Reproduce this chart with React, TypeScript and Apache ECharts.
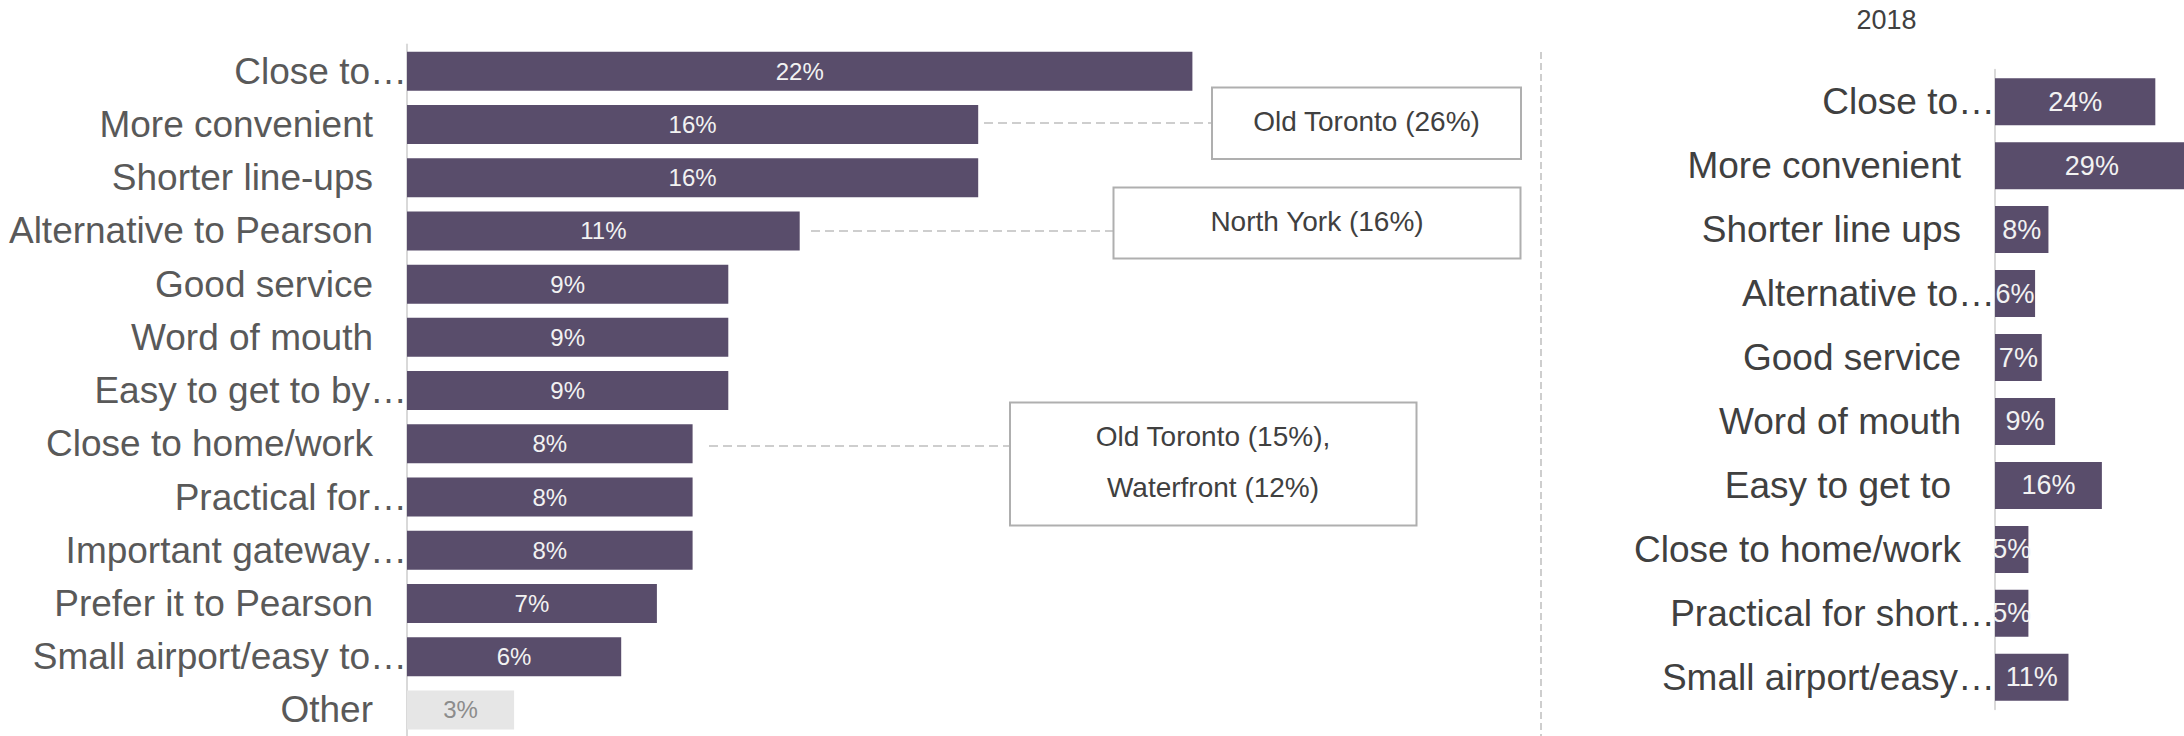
import React, { useEffect, useRef } from 'react';
import * as echarts from 'echarts';

const leftCategories = [
  'Close to…',
  'More convenient',
  'Shorter line-ups',
  'Alternative to Pearson',
  'Good service',
  'Word of mouth',
  'Easy to get to by…',
  'Close to home/work',
  'Practical for…',
  'Important gateway…',
  'Prefer it to Pearson',
  'Small airport/easy to…',
  'Other',
];
const leftValues = [22, 16, 16, 11, 9, 9, 9, 8, 8, 8, 7, 6, 3];

const rightTitle = '2018';
const rightCategories = [
  'Close to…',
  'More convenient',
  'Shorter line ups',
  'Alternative to…',
  'Good service',
  'Word of mouth',
  'Easy to get to',
  'Close to home/work',
  'Practical for short…',
  'Small airport/easy…',
];
const rightValues = [24, 29, 8, 6, 7, 9, 16, 5, 5, 11];

const calloutOldToronto = 'Old Toronto (26%)';
const calloutNorthYork = 'North York (16%)';
const calloutCloseHome = 'Old Toronto (15%),\nWaterfront (12%)';

const FONT = '"Liberation Sans", Arial, sans-serif';
const BAR = '#594D6B';
const OTHER_BAR = '#E6E6E6';

export default function App() {
  const ref = useRef<HTMLDivElement>(null);

  useEffect(() => {
    if (!ref.current) return;
    const chart = echarts.init(ref.current, undefined, { renderer: 'svg' });

    const labelFormatter = (v: string) => {
      if (v.endsWith('…')) return `{t|${v}}`;
      if (v === 'Easy to get to') return `{e|${v}}`;
      return `{n|${v}}`;
    };

    const richFor = (color: string) => ({
      t: { fontSize: 37, color, fontFamily: FONT },
      n: { fontSize: 37, color, fontFamily: FONT, padding: [0, 34, 0, 0] },
      e: { fontSize: 37, color, fontFamily: FONT, padding: [0, 44, 0, 0] },
    });

    const leftData = leftValues.map((v, i) =>
      leftCategories[i] === 'Other'
        ? { value: v, itemStyle: { color: OTHER_BAR }, label: { color: '#8C8C8C' } }
        : { value: v }
    );

    const dashed = { stroke: '#BFBFBF', lineWidth: 1.5, lineDash: [9, 5] };
    const boxStyle = { fill: '#FFFFFF', stroke: '#AFAFAF', lineWidth: 2 };
    const calloutText = { fill: '#404040', fontSize: 28, fontFamily: FONT, align: 'center', verticalAlign: 'middle' };

    chart.setOption({
      animation: false,
      grid: [
        { left: 407, top: 44.6, width: 1071, height: 692, outerBoundsMode: 'none' },
        { left: 1995, top: 69.7, width: 200.4, height: 639.6, outerBoundsMode: 'none' },
      ],
      xAxis: [
        { gridIndex: 0, type: 'value', min: 0, max: 30, show: false },
        { gridIndex: 1, type: 'value', min: 0, max: 30, show: false },
      ],
      yAxis: [
        {
          gridIndex: 0,
          type: 'category',
          inverse: true,
          data: leftCategories,
          axisLine: { show: true, lineStyle: { color: '#D9D9D9', width: 2 } },
          axisTick: { show: false },
          splitLine: { show: false },
          axisLabel: {
            interval: 0,
            margin: 0,
            fontSize: 37,
            color: '#595959',
            fontFamily: FONT,
            formatter: labelFormatter,
            rich: richFor('#595959'),
          },
        },
        {
          gridIndex: 1,
          type: 'category',
          inverse: true,
          data: rightCategories,
          axisLine: { show: true, lineStyle: { color: '#D9D9D9', width: 2 } },
          axisTick: { show: false },
          splitLine: { show: false },
          axisLabel: {
            interval: 0,
            margin: 0,
            fontSize: 37,
            color: '#404040',
            fontFamily: FONT,
            formatter: labelFormatter,
            rich: richFor('#404040'),
          },
        },
      ],
      series: [
        {
          type: 'bar',
          xAxisIndex: 0,
          yAxisIndex: 0,
          data: leftData,
          barWidth: 39,
          itemStyle: { color: BAR },
          label: {
            show: true,
            position: 'inside',
            formatter: (p: any) => `${p.value}%`,
            color: '#F2F2F2',
            fontSize: 24,
            fontFamily: FONT,
          },
        },
        {
          type: 'bar',
          xAxisIndex: 1,
          yAxisIndex: 1,
          data: rightValues,
          barWidth: 47,
          itemStyle: { color: BAR },
          label: {
            show: true,
            position: 'inside',
            formatter: (p: any) => `${p.value}%`,
            color: '#F2F2F2',
            fontSize: 27,
            fontFamily: FONT,
          },
        },
      ],
      graphic: [
        { type: 'line', shape: { x1: 1541, y1: 52, x2: 1541, y2: 736 }, style: { stroke: '#BFBFBF', lineWidth: 1.5, lineDash: [7, 4] }, silent: true },
        { type: 'text', x: 1886.5, y: 19.5, style: { text: rightTitle, fill: '#404040', fontSize: 27, fontFamily: FONT, align: 'center', verticalAlign: 'middle' } },
        { type: 'line', shape: { x1: 984, y1: 123, x2: 1212, y2: 123 }, style: dashed },
        { type: 'rect', shape: { x: 1212, y: 87.5, width: 309, height: 71.5 }, style: boxStyle },
        { type: 'text', x: 1366.5, y: 121.5, style: { ...calloutText, text: calloutOldToronto } },
        { type: 'line', shape: { x1: 811, y1: 231, x2: 1113.5, y2: 231 }, style: dashed },
        { type: 'rect', shape: { x: 1113.5, y: 187.5, width: 407, height: 71 }, style: boxStyle },
        { type: 'text', x: 1317, y: 221, style: { ...calloutText, text: calloutNorthYork } },
        { type: 'line', shape: { x1: 709, y1: 446, x2: 1010, y2: 446 }, style: dashed },
        { type: 'rect', shape: { x: 1010, y: 402.5, width: 406.5, height: 123 }, style: boxStyle },
        { type: 'text', x: 1213, y: 461.5, style: { ...calloutText, text: calloutCloseHome, lineHeight: 51 } },
      ],
    });

    return () => chart.dispose();
  }, []);

  return (
    <div
      ref={ref}
      style={{ position: 'fixed', left: 0, top: 0, width: 2184, height: 736, background: '#FFFFFF' }}
    />
  );
}
